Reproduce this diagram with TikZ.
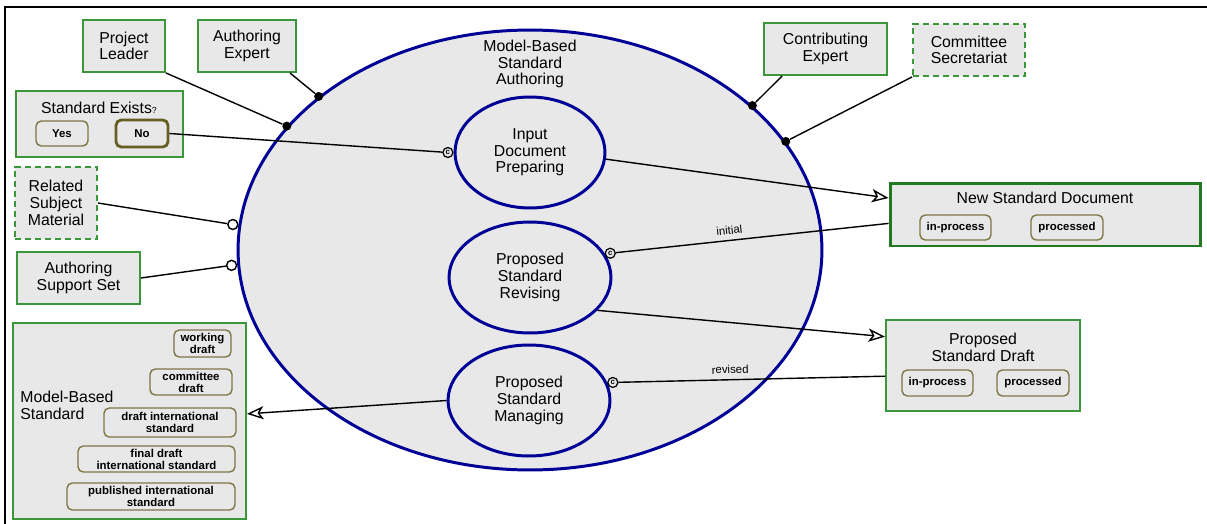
\documentclass[tikz,border=0pt]{standalone}
\usepackage{fontspec}
\setmainfont{Liberation Sans}
\usetikzlibrary{shapes.geometric,arrows.meta,calc}
\definecolor{objgreen}{RGB}{60,150,60}
\definecolor{nsdgreen}{RGB}{35,120,35}
\definecolor{procblue}{RGB}{0,0,150}
\definecolor{boxgray}{RGB}{232,232,232}
\definecolor{stateolive}{RGB}{125,118,70}
\definecolor{noolive}{RGB}{100,95,35}
\begin{document}
\begin{tikzpicture}[x=0.02cm,y=-0.02cm]
	\tikzstyle{every node}+=[inner sep=0pt, font=\fontsize{9}{9.5}\selectfont]
	\tikzstyle{object}=[draw=objgreen, line width=1.1pt, fill=boxgray, align=center]
	\tikzstyle{envobject}=[object, dash pattern=on 3.4pt off 2.3pt]
	\tikzstyle{process}=[ellipse, draw=procblue, line width=1.7pt, fill=boxgray, align=center]
	\tikzstyle{state}=[draw=stateolive, line width=0.8pt, rounded corners=3pt, fill=boxgray, align=center, font=\fontsize{6.5}{6.8}\selectfont\bfseries]
	\tikzstyle{link}=[black, line width=0.8pt]
	\tikzstyle{result}=[link, -{Stealth[open, length=9.5pt, width=7.5pt, inset=2.5pt]}]
	\tikzstyle{agentdot}=[circle, fill=black, minimum size=0.18cm]
	\tikzstyle{instdot}=[circle, draw=black, line width=0.8pt, fill=white, minimum size=0.2cm]
	\tikzstyle{cmark}=[circle, draw=black, line width=0.7pt, fill=boxgray, minimum size=0.2cm, font=\fontsize{4.5}{4.5}\selectfont\bfseries]
	\tikzstyle{tagtext}=[font=\fontsize{6.5}{7}\selectfont, sloped, above=3pt]
	\useasboundingbox (0,0) rectangle (1207,524);
	\draw [line width=1.4pt] (5,524) -- (5,7) -- (1207,7);
	\node [process, minimum width=11.68cm, minimum height=8.8cm] (msa) at (530,250) {};
	\node [align=center] (msaLabel) at (530,64) {Model-Based\\Standard\\Authoring};
	\node [process, minimum width=3.0cm, minimum height=2.22cm] (idp) at (530,152.5) {Input\\Document\\Preparing};
	\node [process, minimum width=3.24cm, minimum height=2.22cm] (psr) at (530,277.5) {Proposed\\Standard\\Revising};
	\node [process, minimum width=3.24cm, minimum height=2.22cm] (psm) at (529,400.5) {Proposed\\Standard\\Managing};
	\node [object, minimum width=1.64cm, minimum height=1.04cm] (pl) at (124,46) {Project\\Leader};
	\node [object, minimum width=1.96cm, minimum height=1.04cm] (ae) at (247,46) {Authoring\\Expert};
	\node [object, minimum width=3.34cm, minimum height=1.32cm] (se) at (99.5,124) {};
	\node (seLabel) at (99,108) {Standard Exists{\fontsize{5}{5}\selectfont ?}};
	\node [state, minimum width=1.04cm, minimum height=0.5cm] (yes) at (62,133.5) {Yes};
	\node [state, draw=noolive, line width=1.6pt, minimum width=1.04cm, minimum height=0.54cm] (no) at (142,133.5) {No};
	\node [envobject, minimum width=1.64cm, minimum height=1.44cm] (rsm) at (56,203) {Related\\Subject\\Material};
	\node [object, minimum width=2.46cm, minimum height=1.04cm] (ass) at (78.5,278) {Authoring\\Support Set};
	\node [object, minimum width=4.66cm, minimum height=3.92cm] (mbs) at (129.5,421) {};
	\node [anchor=west, align=left] (mbsLabel) at (20,405) {Model-Based\\Standard};
	\node [state, minimum width=1.14cm, minimum height=0.54cm] (wd) at (202.5,343.5) {working\\draft};
	\node [state, minimum width=1.64cm, minimum height=0.52cm] (cd) at (191,382) {committee\\draft};
	\node [state, minimum width=2.64cm, minimum height=0.58cm] (dis) at (170,422.5) {draft international\\standard};
	\node [state, minimum width=3.14cm, minimum height=0.52cm] (fdis) at (156.5,459) {final draft\\international standard};
	\node [state, minimum width=3.36cm, minimum height=0.54cm] (pis) at (151,496.5) {published international\\standard};
	\node [object, minimum width=2.46cm, minimum height=1.04cm] (ce) at (825.5,49) {Contributing\\Expert};
	\node [envobject, minimum width=2.24cm, minimum height=1.04cm] (cs) at (969,50) {Committee\\Secretariat};
	\node [object, draw=nsdgreen, line width=1.7pt, minimum width=6.22cm, minimum height=1.26cm] (nsd) at (1045.5,214.5) {};
	\node (nsdLabel) at (1045,198) {New Standard Document};
	\node [state, minimum width=1.42cm, minimum height=0.5cm] (nsdIn) at (955.5,227.5) {in-process};
	\node [state, minimum width=1.44cm, minimum height=0.5cm] (nsdDone) at (1067,227.5) {processed};
	\node [object, minimum width=3.88cm, minimum height=1.82cm] (psd) at (983,365.5) {};
	\node [align=center] (psdLabel) at (983,347) {Proposed\\Standard Draft};
	\node [state, minimum width=1.42cm, minimum height=0.52cm] (psdIn) at (937.5,383) {in-process};
	\node [state, minimum width=1.44cm, minimum height=0.52cm] (psdDone) at (1033,383) {processed};
	\node [agentdot] (plDot) at (msa.153.6) {};
	\node [agentdot] (aeDot) at (msa.144.8) {};
	\node [agentdot] (ceDot) at (msa.33.8) {};
	\node [agentdot] (csDot) at (msa.23.9) {};
	\node [instdot, anchor=east] (rsmDot) at (msa.175) {};
	\node [instdot, anchor=east] (assDot) at (msa.183) {};
	\node [cmark, anchor=east] (idpIn) at (idp.west) {c};
	\node [cmark, anchor=west] (psrIn) at (psr.18) {c};
	\node [cmark, anchor=west] (psmIn) at (psm.13) {c};
	\draw [link] (pl.south east) -- (plDot);
	\draw [link] ($(ae.south east)+(-7,0)$) -- (aeDot);
	\draw [link] ($(ce.south west)+(19,0)$) -- (ceDot);
	\draw [link] (cs.south west) -- (csDot);
	\draw [link] (rsm.east) -- (rsmDot);
	\draw [link] (ass.east) -- (assDot);
	\draw [link] (no.east) -- (idpIn);
	\draw [result] (idp.-5) -- ($(nsd.north west)!0.25!(nsd.south west)$);
	\draw [link] (psrIn) -- node [tagtext, pos=0.42] {initial} ($(nsd.north west)!0.635!(nsd.south west)$);
	\draw [result] (psr.-26) -- ($(psd.north west)!0.19!(psd.south west)$);
	\draw [link] (psmIn) -- node [tagtext, pos=0.42] {revised} ($(psd.north west)!0.615!(psd.south west)$);
	\draw [result] (psm.west) -- ($(mbs.north east)!0.464!(mbs.south east)$);
\end{tikzpicture}
\end{document}
